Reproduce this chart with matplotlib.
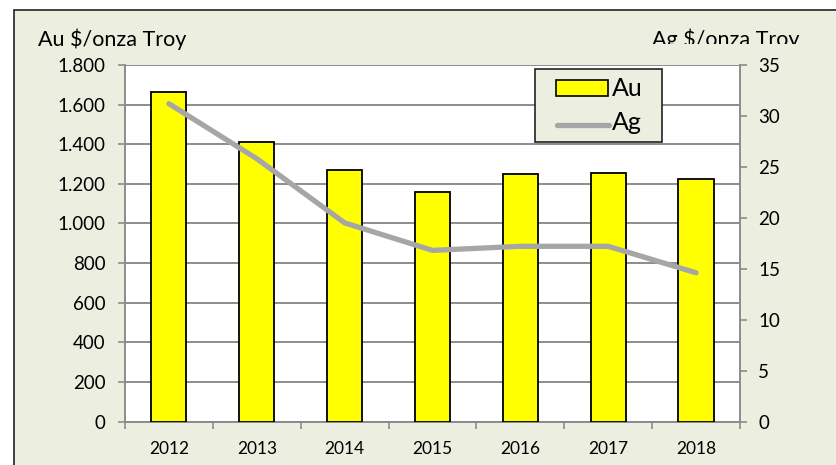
import matplotlib
matplotlib.use("Agg")
import matplotlib.pyplot as plt
import numpy as np
from matplotlib.patches import Rectangle
from matplotlib.lines import Line2D
from matplotlib.ticker import FuncFormatter, MultipleLocator
from matplotlib.transforms import Bbox

years = ['2012', '2013', '2014', '2015', '2016', '2017', '2018']
au_price = [1666, 1410, 1268, 1160, 1248, 1257, 1223]
ag_price = [31.2, 25.8, 19.5, 16.8, 17.2, 17.2, 14.6]

bg = '#ECEEE0'
grid_col = '#8C8C8C'
au_col = '#FFFF00'
ag_col = '#A6A6A6'
plt.rcParams['font.family'] = ['Lato', 'DejaVu Sans']

W, H = 837, 465
fig = plt.figure(figsize=(W / 100, H / 100), dpi=100)
fig.patch.set_facecolor('white')


def fx(px):
    return px / W


def fy(py):
    return 1 - py / H


# outer chart frame (runs off the right and bottom edges)
fig.patches.append(Rectangle((fx(14), -0.05), 1.0, fy(10) + 0.05,
                             transform=fig.transFigure, facecolor=bg,
                             edgecolor='#222222', lw=1.2, zorder=-10))

ax = fig.add_axes([fx(125), fy(421.5), fx(740 - 125), (421.5 - 65) / H])
ax.set_facecolor('white')
x = np.arange(len(years))
ax.bar(x, au_price, width=0.4, color=au_col, edgecolor='black', lw=1.3, zorder=3)
ax.set_xlim(-0.5, len(years) - 0.5)
ax.set_ylim(0, 1800)
ax.yaxis.set_major_locator(MultipleLocator(200))
ax.yaxis.set_major_formatter(FuncFormatter(lambda v, p: f'{int(v):,}'.replace(',', '.')))
ax.grid(axis='y', color=grid_col, lw=1.4, zorder=0)
ax.set_axisbelow(True)
ax.set_xticks(x, labels=years)
ax.set_xticks(np.arange(-0.5, len(years)), minor=True)
ax.tick_params(axis='x', which='major', length=0, pad=14, labelsize=12.5)
ax.tick_params(axis='x', which='minor', length=5, width=1.2, color=grid_col, direction='out')
ax.tick_params(axis='y', length=5, width=1.2, color=grid_col, labelsize=13.5, pad=9)
for s in ['top', 'right']:
    ax.spines[s].set_visible(False)
for s in ['left', 'bottom']:
    ax.spines[s].set_color(grid_col)
    ax.spines[s].set_linewidth(1.4)

ax2 = ax.twinx()
ax2.plot(x, ag_price, color=ag_col, lw=3.8, solid_capstyle='round',
         solid_joinstyle='round', zorder=4)
ax2.set_ylim(0, 35)
ax2.yaxis.set_major_locator(MultipleLocator(5))
ax2.tick_params(axis='y', length=5, width=1.2, color=grid_col, labelsize=13.5, pad=8)
for s in ['top', 'left', 'bottom']:
    ax2.spines[s].set_visible(False)
ax2.spines['right'].set_color(grid_col)
ax2.spines['right'].set_linewidth(1.4)

fig.text(fx(38), fy(46), 'Au $/onza Troy', fontsize=15.5, ha='left', va='baseline')
t = fig.text(fx(800), fy(46), 'Ag $/onza Troy', fontsize=15.5, ha='right', va='baseline')
t.set_clip_box(Bbox.from_extents(0, H - 43.5, W, H))
t.set_clip_on(True)

# legend box drawn by hand to match the reference layout
fig.patches.append(Rectangle((fx(535.5), fy(141.7)), fx(662 - 535.5), (141.7 - 69.3) / H,
                             transform=fig.transFigure, facecolor=bg,
                             edgecolor='#222222', lw=1.2, zorder=5))
fig.patches.append(Rectangle((fx(556), fy(96)), fx(608.5 - 556), 16 / H,
                             transform=fig.transFigure, facecolor=au_col,
                             edgecolor='black', lw=1.2, zorder=6))
fig.lines.append(Line2D([fx(557), fx(609)], [fy(124.5), fy(124.5)], transform=fig.transFigure,
                        color=ag_col, lw=3.8, solid_capstyle='round', zorder=6))
fig.text(fx(612), fy(89), 'Au', fontsize=18, ha='left', va='center', zorder=7)
fig.text(fx(612), fy(123), 'Ag', fontsize=18, ha='left', va='center', zorder=7)

fig.savefig('out.png', dpi=100, facecolor=fig.get_facecolor())
